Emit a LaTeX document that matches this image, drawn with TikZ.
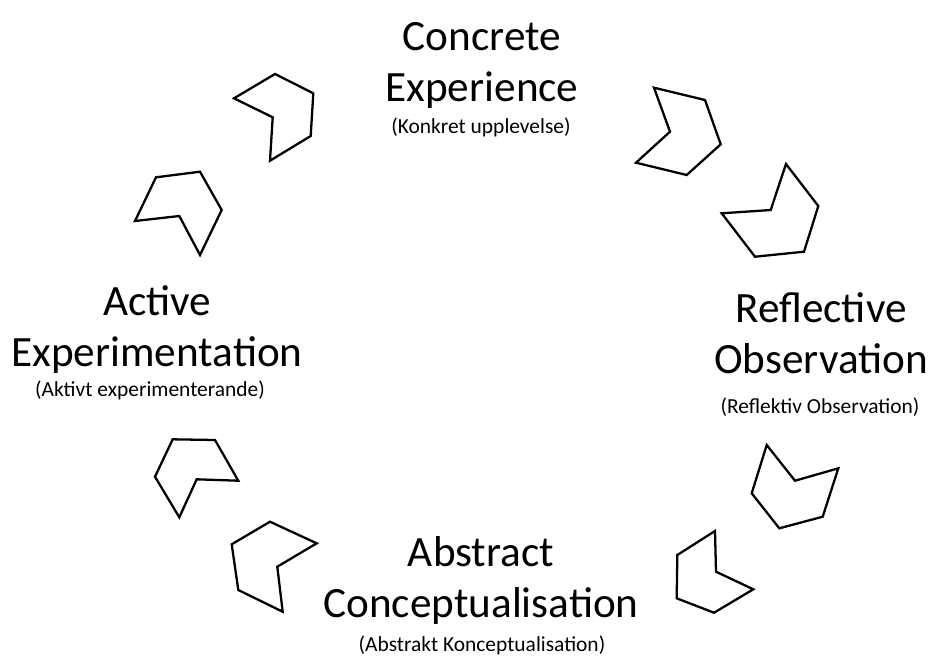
\documentclass[tikz,border=0pt]{standalone}
\usepackage{fontspec}
\setmainfont{Carlito}
\tikzset{
  stage/.style={align=center,anchor=base,font=\fontsize{24.6}{29}\selectfont},
  stagesub/.style={anchor=base,font=\fontsize{12.2}{14.6}\selectfont},
  chev/.style={draw,line width=1.3pt,line join=miter}
}

\begin{document}
\begin{tikzpicture}[x=0.02cm,y=-0.02cm]
    \useasboundingbox (0,0) rectangle (929,657);
    % stages of the cycle
    \node[stage] (ce) at (482,101) {Concrete\\Experience};
    \node[stagesub] (ces) at (481,133) {(Konkret upplevelse)};
    \node[stage] (ro) at (821,373) {Reflective\\Observation};
    \node[stagesub] (ros) at (820,413) {(Reflektiv Observation)};
    \node[stage] (ac) at (481,617) {Abstract\\Conceptualisation};
    \node[stagesub] (acs) at (482,651) {(Abstrakt Konceptualisation)};
    \node[stage] (ae) at (157,366) {Active\\Experimentation};
    \node[stagesub] (aes) at (150,396) {(Aktivt experimenterande)};

    % chevrons between the stages
    \draw[chev] (654,87.7) -- (705,100) -- (720.7,144.3) -- (686.7,175) -- (636,162.7) -- (670,131.7) -- cycle;
    \draw[chev] (786,164) -- (818.3,206) -- (804,251.7) -- (755,256.7) -- (721.7,213.3) -- (770.7,210) -- cycle;
    \draw[chev] (766.7,445) -- (795,480.7) -- (838.3,468.3) -- (822.7,516.7) -- (779.3,528.3) -- (751.7,493.3) -- cycle;
    \draw[chev] (715,531) -- (716,571.7) -- (753.3,589.3) -- (714,612.7) -- (676.7,598.3) -- (677.3,555) -- cycle;
    \draw[chev] (270,521.7) -- (316.7,543.3) -- (277.3,566.7) -- (282.7,611.7) -- (238.3,590) -- (231.7,544.3) -- cycle;
    \draw[chev] (172.7,439.3) -- (215,440) -- (238.3,480.7) -- (196.7,479.3) -- (179.3,517.3) -- (155,476.7) -- cycle;
    \draw[chev] (156,177.3) -- (200,171.7) -- (221.7,210) -- (200,255) -- (179.3,216) -- (135,221) -- cycle;
    \draw[chev] (234,98.3) -- (275,74) -- (313.3,93.3) -- (310.7,136) -- (270,160.7) -- (272.7,117.3) -- cycle;
\end{tikzpicture}
\end{document}
